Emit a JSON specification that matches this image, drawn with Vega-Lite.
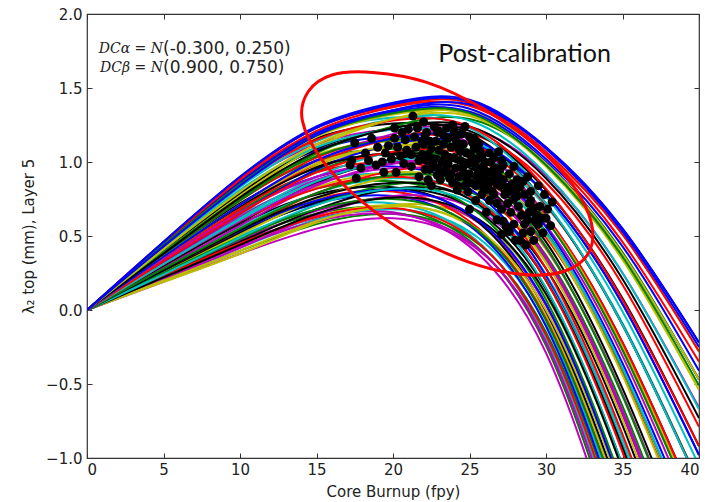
{
"$schema":"https://vega.github.io/schema/vega-lite/v6.json",
"width":612,"height":444,
"autosize":{"type":"none"},
"padding":{"left":87,"top":14,"right":6,"bottom":44},
"background":"white",
"config":{
"view":{"stroke":"#333","strokeWidth":1.2},
"axis":{"grid":false,"domain":false,"tickColor":"#333","tickSize":-5,"tickWidth":1,
"labelFont":"DejaVu Sans","labelFontSize":15,"labelColor":"#222",
"titleFont":"DejaVu Sans","titleFontSize":15,"titleFontWeight":"normal","titleColor":"#222"}
},
"datasets":{
"curves":[
{"s":0,"x":0,"y":0},{"s":0,"x":5,"y":0.19},{"s":0,"x":10,"y":0.38},{"s":0,"x":15,"y":0.55},{"s":0,"x":20,"y":0.62},{"s":0,"x":25,"y":0.45},{"s":0,"x":30,"y":-0.20},{"s":0,"x":35,"y":-1.60},{"s":0,"x":40,"y":-3.40},
{"s":21,"x":0,"y":0},{"s":21,"x":5,"y":0.24},{"s":21,"x":10,"y":0.46},{"s":21,"x":15,"y":0.62},{"s":21,"x":20,"y":0.66},{"s":21,"x":25,"y":0.43},{"s":21,"x":30,"y":-0.29},{"s":21,"x":35,"y":-1.78},{"s":21,"x":40,"y":-3.66},
{"s":46,"x":0,"y":0},{"s":46,"x":5,"y":0.20},{"s":46,"x":10,"y":0.40},{"s":46,"x":15,"y":0.58},{"s":46,"x":20,"y":0.65},{"s":46,"x":25,"y":0.49},{"s":46,"x":30,"y":-0.15},{"s":46,"x":35,"y":-1.51},{"s":46,"x":40,"y":-3.27},
{"s":18,"x":0,"y":0},{"s":18,"x":5,"y":0.25},{"s":18,"x":10,"y":0.48},{"s":18,"x":15,"y":0.65},{"s":18,"x":20,"y":0.69},{"s":18,"x":25,"y":0.47},{"s":18,"x":30,"y":-0.24},{"s":18,"x":35,"y":-1.70},{"s":18,"x":40,"y":-3.53},
{"s":41,"x":0,"y":0},{"s":41,"x":5,"y":0.21},{"s":41,"x":10,"y":0.42},{"s":41,"x":15,"y":0.61},{"s":41,"x":20,"y":0.68},{"s":41,"x":25,"y":0.53},{"s":41,"x":30,"y":-0.10},{"s":41,"x":35,"y":-1.43},{"s":41,"x":40,"y":-3.15},
{"s":13,"x":0,"y":0},{"s":13,"x":5,"y":0.26},{"s":13,"x":10,"y":0.50},{"s":13,"x":15,"y":0.68},{"s":13,"x":20,"y":0.72},{"s":13,"x":25,"y":0.51},{"s":13,"x":30,"y":-0.19},{"s":13,"x":35,"y":-1.61},{"s":13,"x":40,"y":-3.40},
{"s":36,"x":0,"y":0},{"s":36,"x":5,"y":0.22},{"s":36,"x":10,"y":0.44},{"s":36,"x":15,"y":0.63},{"s":36,"x":20,"y":0.71},{"s":36,"x":25,"y":0.57},{"s":36,"x":30,"y":-0.04},{"s":36,"x":35,"y":-1.34},{"s":36,"x":40,"y":-3.02},
{"s":8,"x":0,"y":0},{"s":8,"x":5,"y":0.19},{"s":8,"x":10,"y":0.38},{"s":8,"x":15,"y":0.59},{"s":8,"x":20,"y":0.71},{"s":8,"x":25,"y":0.63},{"s":8,"x":30,"y":0.10},{"s":8,"x":35,"y":-1.08},{"s":8,"x":40,"y":-2.64},
{"s":31,"x":0,"y":0},{"s":31,"x":5,"y":0.27},{"s":31,"x":10,"y":0.53},{"s":31,"x":15,"y":0.72},{"s":31,"x":20,"y":0.77},{"s":31,"x":25,"y":0.57},{"s":31,"x":30,"y":-0.11},{"s":31,"x":35,"y":-1.48},{"s":31,"x":40,"y":-3.21},
{"s":28,"x":0,"y":0},{"s":28,"x":5,"y":0.24},{"s":28,"x":10,"y":0.47},{"s":28,"x":15,"y":0.67},{"s":28,"x":20,"y":0.76},{"s":28,"x":25,"y":0.63},{"s":28,"x":30,"y":0.03},{"s":28,"x":35,"y":-1.22},{"s":28,"x":40,"y":-2.83},
{"s":26,"x":0,"y":0},{"s":26,"x":5,"y":0.28},{"s":26,"x":10,"y":0.55},{"s":26,"x":15,"y":0.75},{"s":26,"x":20,"y":0.80},{"s":26,"x":25,"y":0.60},{"s":26,"x":30,"y":-0.06},{"s":26,"x":35,"y":-1.39},{"s":26,"x":40,"y":-3.08},
{"s":49,"x":0,"y":0},{"s":49,"x":5,"y":0.21},{"s":49,"x":10,"y":0.42},{"s":49,"x":15,"y":0.64},{"s":49,"x":20,"y":0.77},{"s":49,"x":25,"y":0.70},{"s":49,"x":30,"y":0.21},{"s":49,"x":35,"y":-0.91},{"s":49,"x":40,"y":-2.38},
{"s":23,"x":0,"y":0},{"s":23,"x":5,"y":0.30},{"s":23,"x":10,"y":0.58},{"s":23,"x":15,"y":0.78},{"s":23,"x":20,"y":0.83},{"s":23,"x":25,"y":0.64},{"s":23,"x":30,"y":-0.01},{"s":23,"x":35,"y":-1.30},{"s":23,"x":40,"y":-2.96},
{"s":44,"x":0,"y":0},{"s":44,"x":5,"y":0.26},{"s":44,"x":10,"y":0.52},{"s":44,"x":15,"y":0.73},{"s":44,"x":20,"y":0.82},{"s":44,"x":25,"y":0.70},{"s":44,"x":30,"y":0.14},{"s":44,"x":35,"y":-1.05},{"s":44,"x":40,"y":-2.57},
{"s":16,"x":0,"y":0},{"s":16,"x":5,"y":0.23},{"s":16,"x":10,"y":0.46},{"s":16,"x":15,"y":0.68},{"s":16,"x":20,"y":0.82},{"s":16,"x":25,"y":0.76},{"s":16,"x":30,"y":0.28},{"s":16,"x":35,"y":-0.78},{"s":16,"x":40,"y":-2.19},
{"s":39,"x":0,"y":0},{"s":39,"x":5,"y":0.31},{"s":39,"x":10,"y":0.61},{"s":39,"x":15,"y":0.82},{"s":39,"x":20,"y":0.87},{"s":39,"x":25,"y":0.70},{"s":39,"x":30,"y":0.07},{"s":39,"x":35,"y":-1.18},{"s":39,"x":40,"y":-2.77},
{"s":11,"x":0,"y":0},{"s":11,"x":5,"y":0.24},{"s":11,"x":10,"y":0.48},{"s":11,"x":15,"y":0.71},{"s":11,"x":20,"y":0.85},{"s":11,"x":25,"y":0.80},{"s":11,"x":30,"y":0.34},{"s":11,"x":35,"y":-0.69},{"s":11,"x":40,"y":-2.06},
{"s":34,"x":0,"y":0},{"s":34,"x":5,"y":0.28},{"s":34,"x":10,"y":0.56},{"s":34,"x":15,"y":0.79},{"s":34,"x":20,"y":0.89},{"s":34,"x":25,"y":0.78},{"s":34,"x":30,"y":0.24},{"s":34,"x":35,"y":-0.87},{"s":34,"x":40,"y":-2.32},
{"s":6,"x":0,"y":0},{"s":6,"x":5,"y":0.33},{"s":6,"x":10,"y":0.64},{"s":6,"x":15,"y":0.86},{"s":6,"x":20,"y":0.92},{"s":6,"x":25,"y":0.76},{"s":6,"x":30,"y":0.15},{"s":6,"x":35,"y":-1.05},{"s":6,"x":40,"y":-2.58},
{"s":29,"x":0,"y":0},{"s":29,"x":5,"y":0.25},{"s":29,"x":10,"y":0.51},{"s":29,"x":15,"y":0.75},{"s":29,"x":20,"y":0.90},{"s":29,"x":25,"y":0.86},{"s":29,"x":30,"y":0.41},{"s":29,"x":35,"y":-0.57},{"s":29,"x":40,"y":-1.87},
{"s":1,"x":0,"y":0},{"s":1,"x":5,"y":0.30},{"s":1,"x":10,"y":0.59},{"s":1,"x":15,"y":0.83},{"s":1,"x":20,"y":0.93},{"s":1,"x":25,"y":0.84},{"s":1,"x":30,"y":0.32},{"s":1,"x":35,"y":-0.74},{"s":1,"x":40,"y":-2.13},
{"s":24,"x":0,"y":0},{"s":24,"x":5,"y":0.34},{"s":24,"x":10,"y":0.67},{"s":24,"x":15,"y":0.90},{"s":24,"x":20,"y":0.97},{"s":24,"x":25,"y":0.82},{"s":24,"x":30,"y":0.23},{"s":24,"x":35,"y":-0.92},{"s":24,"x":40,"y":-2.38},
{"s":47,"x":0,"y":0},{"s":47,"x":5,"y":0.27},{"s":47,"x":10,"y":0.54},{"s":47,"x":15,"y":0.79},{"s":47,"x":20,"y":0.94},{"s":47,"x":25,"y":0.92},{"s":47,"x":30,"y":0.49},{"s":47,"x":35,"y":-0.43},{"s":47,"x":40,"y":-1.68},
{"s":19,"x":0,"y":0},{"s":19,"x":5,"y":0.35},{"s":19,"x":10,"y":0.69},{"s":19,"x":15,"y":0.93},{"s":19,"x":20,"y":1.00},{"s":19,"x":25,"y":0.86},{"s":19,"x":30,"y":0.28},{"s":19,"x":35,"y":-0.84},{"s":19,"x":40,"y":-2.26},
{"s":42,"x":0,"y":0},{"s":42,"x":5,"y":0.32},{"s":42,"x":10,"y":0.63},{"s":42,"x":15,"y":0.88},{"s":42,"x":20,"y":0.99},{"s":42,"x":25,"y":0.92},{"s":42,"x":30,"y":0.42},{"s":42,"x":35,"y":-0.57},{"s":42,"x":40,"y":-1.87},
{"s":14,"x":0,"y":0},{"s":14,"x":5,"y":0.29},{"s":14,"x":10,"y":0.57},{"s":14,"x":15,"y":0.84},{"s":14,"x":20,"y":0.99},{"s":14,"x":25,"y":0.98},{"s":14,"x":30,"y":0.57},{"s":14,"x":35,"y":-0.31},{"s":14,"x":40,"y":-1.49},
{"s":37,"x":0,"y":0},{"s":37,"x":5,"y":0.37},{"s":37,"x":10,"y":0.72},{"s":37,"x":15,"y":0.97},{"s":37,"x":20,"y":1.05},{"s":37,"x":25,"y":0.91},{"s":37,"x":30,"y":0.36},{"s":37,"x":35,"y":-0.70},{"s":37,"x":40,"y":-2.07},
{"s":9,"x":0,"y":0},{"s":9,"x":5,"y":0.30},{"s":9,"x":10,"y":0.59},{"s":9,"x":15,"y":0.86},{"s":9,"x":20,"y":1.02},{"s":9,"x":25,"y":1.01},{"s":9,"x":30,"y":0.62},{"s":9,"x":35,"y":-0.22},{"s":9,"x":40,"y":-1.36},
{"s":32,"x":0,"y":0},{"s":32,"x":5,"y":0.34},{"s":32,"x":10,"y":0.67},{"s":32,"x":15,"y":0.94},{"s":32,"x":20,"y":1.06},{"s":32,"x":25,"y":0.99},{"s":32,"x":30,"y":0.53},{"s":32,"x":35,"y":-0.40},{"s":32,"x":40,"y":-1.62},
{"s":4,"x":0,"y":0},{"s":4,"x":5,"y":0.39},{"s":4,"x":10,"y":0.75},{"s":4,"x":15,"y":1.01},{"s":4,"x":20,"y":1.09},{"s":4,"x":25,"y":0.97},{"s":4,"x":30,"y":0.43},{"s":4,"x":35,"y":-0.58},{"s":4,"x":40,"y":-1.88},
{"s":27,"x":0,"y":0},{"s":27,"x":5,"y":0.31},{"s":27,"x":10,"y":0.62},{"s":27,"x":15,"y":0.90},{"s":27,"x":20,"y":1.07},{"s":27,"x":25,"y":1.07},{"s":27,"x":30,"y":0.70},{"s":27,"x":35,"y":-0.09},{"s":27,"x":40,"y":-1.17},
{"s":50,"x":0,"y":0},{"s":50,"x":5,"y":0.36},{"s":50,"x":10,"y":0.70},{"s":50,"x":15,"y":0.98},{"s":50,"x":20,"y":1.10},{"s":50,"x":25,"y":1.05},{"s":50,"x":30,"y":0.61},{"s":50,"x":35,"y":-0.27},{"s":50,"x":40,"y":-1.43},
{"s":22,"x":0,"y":0},{"s":22,"x":5,"y":0.40},{"s":22,"x":10,"y":0.78},{"s":22,"x":15,"y":1.05},{"s":22,"x":20,"y":1.14},{"s":22,"x":25,"y":1.03},{"s":22,"x":30,"y":0.51},{"s":22,"x":35,"y":-0.44},{"s":22,"x":40,"y":-1.69},
{"s":45,"x":0,"y":0},{"s":45,"x":5,"y":0.33},{"s":45,"x":10,"y":0.65},{"s":45,"x":15,"y":0.95},{"s":45,"x":20,"y":1.12},{"s":45,"x":25,"y":1.13},{"s":45,"x":30,"y":0.78},{"s":45,"x":35,"y":0.04},{"s":45,"x":40,"y":-0.98},
{"s":17,"x":0,"y":0},{"s":17,"x":5,"y":0.41},{"s":17,"x":10,"y":0.80},{"s":17,"x":15,"y":1.08},{"s":17,"x":20,"y":1.17},{"s":17,"x":25,"y":1.07},{"s":17,"x":30,"y":0.56},{"s":17,"x":35,"y":-0.36},{"s":17,"x":40,"y":-1.56},
{"s":40,"x":0,"y":0},{"s":40,"x":5,"y":0.38},{"s":40,"x":10,"y":0.74},{"s":40,"x":15,"y":1.03},{"s":40,"x":20,"y":1.17},{"s":40,"x":25,"y":1.13},{"s":40,"x":30,"y":0.71},{"s":40,"x":35,"y":-0.10},{"s":40,"x":40,"y":-1.17},
{"s":12,"x":0,"y":0},{"s":12,"x":5,"y":0.34},{"s":12,"x":10,"y":0.68},{"s":12,"x":15,"y":0.99},{"s":12,"x":20,"y":1.16},{"s":12,"x":25,"y":1.19},{"s":12,"x":30,"y":0.86},{"s":12,"x":35,"y":0.17},{"s":12,"x":40,"y":-0.79},
{"s":35,"x":0,"y":0},{"s":35,"x":5,"y":0.43},{"s":35,"x":10,"y":0.84},{"s":35,"x":15,"y":1.12},{"s":35,"x":20,"y":1.22},{"s":35,"x":25,"y":1.13},{"s":35,"x":30,"y":0.64},{"s":35,"x":35,"y":-0.23},{"s":35,"x":40,"y":-1.37},
{"s":7,"x":0,"y":0},{"s":7,"x":5,"y":0.36},{"s":7,"x":10,"y":0.71},{"s":7,"x":15,"y":1.01},{"s":7,"x":20,"y":1.19},{"s":7,"x":25,"y":1.23},{"s":7,"x":30,"y":0.91},{"s":7,"x":35,"y":0.25},{"s":7,"x":40,"y":-0.66},
{"s":30,"x":0,"y":0},{"s":30,"x":5,"y":0.40},{"s":30,"x":10,"y":0.79},{"s":30,"x":15,"y":1.09},{"s":30,"x":20,"y":1.23},{"s":30,"x":25,"y":1.21},{"s":30,"x":30,"y":0.81},{"s":30,"x":35,"y":0.08},{"s":30,"x":40,"y":-0.92},
{"s":2,"x":0,"y":0},{"s":2,"x":5,"y":0.45},{"s":2,"x":10,"y":0.87},{"s":2,"x":15,"y":1.16},{"s":2,"x":20,"y":1.26},{"s":2,"x":25,"y":1.19},{"s":2,"x":30,"y":0.72},{"s":2,"x":35,"y":-0.10},{"s":2,"x":40,"y":-1.18},
{"s":25,"x":0,"y":0},{"s":25,"x":5,"y":0.37},{"s":25,"x":10,"y":0.74},{"s":25,"x":15,"y":1.06},{"s":25,"x":20,"y":1.24},{"s":25,"x":25,"y":1.29},{"s":25,"x":30,"y":0.99},{"s":25,"x":35,"y":0.39},{"s":25,"x":40,"y":-0.47},
{"s":48,"x":0,"y":0},{"s":48,"x":5,"y":0.46},{"s":48,"x":10,"y":0.89},{"s":48,"x":15,"y":1.19},{"s":48,"x":20,"y":1.30},{"s":48,"x":25,"y":1.23},{"s":48,"x":30,"y":0.77},{"s":48,"x":35,"y":-0.01},{"s":48,"x":40,"y":-1.05},
{"s":20,"x":0,"y":0},{"s":20,"x":5,"y":0.42},{"s":20,"x":10,"y":0.83},{"s":20,"x":15,"y":1.14},{"s":20,"x":20,"y":1.29},{"s":20,"x":25,"y":1.28},{"s":20,"x":30,"y":0.92},{"s":20,"x":35,"y":0.25},{"s":20,"x":40,"y":-0.67},
{"s":43,"x":0,"y":0},{"s":43,"x":5,"y":0.39},{"s":43,"x":10,"y":0.77},{"s":43,"x":15,"y":1.10},{"s":43,"x":20,"y":1.29},{"s":43,"x":25,"y":1.34},{"s":43,"x":30,"y":1.06},{"s":43,"x":35,"y":0.51},{"s":43,"x":40,"y":-0.28},
{"s":15,"x":0,"y":0},{"s":15,"x":5,"y":0.43},{"s":15,"x":10,"y":0.85},{"s":15,"x":15,"y":1.17},{"s":15,"x":20,"y":1.32},{"s":15,"x":25,"y":1.32},{"s":15,"x":30,"y":0.97},{"s":15,"x":35,"y":0.34},{"s":15,"x":40,"y":-0.54},
{"s":38,"x":0,"y":0},{"s":38,"x":5,"y":0.44},{"s":38,"x":10,"y":0.86},{"s":38,"x":15,"y":1.19},{"s":38,"x":20,"y":1.34},{"s":38,"x":25,"y":1.34},{"s":38,"x":30,"y":1.00},{"s":38,"x":35,"y":0.38},{"s":38,"x":40,"y":-0.47},
{"s":10,"x":0,"y":0},{"s":10,"x":5,"y":0.44},{"s":10,"x":10,"y":0.87},{"s":10,"x":15,"y":1.20},{"s":10,"x":20,"y":1.35},{"s":10,"x":25,"y":1.36},{"s":10,"x":30,"y":1.02},{"s":10,"x":35,"y":0.43},{"s":10,"x":40,"y":-0.41},
{"s":33,"x":0,"y":0},{"s":33,"x":5,"y":0.45},{"s":33,"x":10,"y":0.88},{"s":33,"x":15,"y":1.21},{"s":33,"x":20,"y":1.37},{"s":33,"x":25,"y":1.38},{"s":33,"x":30,"y":1.05},{"s":33,"x":35,"y":0.46},{"s":33,"x":40,"y":-0.35},
{"s":5,"x":0,"y":0},{"s":5,"x":5,"y":0.46},{"s":5,"x":10,"y":0.89},{"s":5,"x":15,"y":1.23},{"s":5,"x":20,"y":1.38},{"s":5,"x":25,"y":1.40},{"s":5,"x":30,"y":1.07},{"s":5,"x":35,"y":0.51},{"s":5,"x":40,"y":-0.28},
{"s":3,"x":0,"y":0},{"s":3,"x":5,"y":0.46},{"s":3,"x":10,"y":0.90},{"s":3,"x":15,"y":1.24},{"s":3,"x":20,"y":1.40},{"s":3,"x":25,"y":1.42},{"s":3,"x":30,"y":1.10},{"s":3,"x":35,"y":0.55},{"s":3,"x":40,"y":-0.22},
{"s":63,"x":0,"y":0},{"s":63,"x":5,"y":0.22},{"s":63,"x":10,"y":0.43},{"s":63,"x":15,"y":0.60},{"s":63,"x":20,"y":0.65},{"s":63,"x":25,"y":0.46},{"s":63,"x":30,"y":-0.22},{"s":63,"x":35,"y":-1.65},{"s":63,"x":40,"y":-3.47},
{"s":54,"x":0,"y":0},{"s":54,"x":5,"y":0.23},{"s":54,"x":10,"y":0.45},{"s":54,"x":15,"y":0.63},{"s":54,"x":20,"y":0.69},{"s":54,"x":25,"y":0.50},{"s":54,"x":30,"y":-0.17},{"s":54,"x":35,"y":-1.56},{"s":54,"x":40,"y":-3.34},
{"s":57,"x":0,"y":0},{"s":57,"x":5,"y":0.20},{"s":57,"x":10,"y":0.40},{"s":57,"x":15,"y":0.60},{"s":57,"x":20,"y":0.70},{"s":57,"x":25,"y":0.58},{"s":57,"x":30,"y":0.00},{"s":57,"x":35,"y":-1.25},{"s":57,"x":40,"y":-2.89},
{"s":60,"x":0,"y":0},{"s":60,"x":5,"y":0.25},{"s":60,"x":10,"y":0.49},{"s":60,"x":15,"y":0.68},{"s":60,"x":20,"y":0.75},{"s":60,"x":25,"y":0.58},{"s":60,"x":30,"y":-0.07},{"s":60,"x":35,"y":-1.39},{"s":60,"x":40,"y":-3.08},
{"s":51,"x":0,"y":0},{"s":51,"x":5,"y":0.22},{"s":51,"x":10,"y":0.44},{"s":51,"x":15,"y":0.65},{"s":51,"x":20,"y":0.76},{"s":51,"x":25,"y":0.65},{"s":51,"x":30,"y":0.11},{"s":51,"x":35,"y":-1.08},{"s":51,"x":40,"y":-2.64},
{"s":66,"x":0,"y":0},{"s":66,"x":5,"y":0.27},{"s":66,"x":10,"y":0.54},{"s":66,"x":15,"y":0.74},{"s":66,"x":20,"y":0.81},{"s":66,"x":25,"y":0.65},{"s":66,"x":30,"y":0.04},{"s":66,"x":35,"y":-1.22},{"s":66,"x":40,"y":-2.83},
{"s":69,"x":0,"y":0},{"s":69,"x":5,"y":0.24},{"s":69,"x":10,"y":0.49},{"s":69,"x":15,"y":0.71},{"s":69,"x":20,"y":0.82},{"s":69,"x":25,"y":0.73},{"s":69,"x":30,"y":0.21},{"s":69,"x":35,"y":-0.91},{"s":69,"x":40,"y":-2.38},
{"s":72,"x":0,"y":0},{"s":72,"x":5,"y":0.27},{"s":72,"x":10,"y":0.54},{"s":72,"x":15,"y":0.76},{"s":72,"x":20,"y":0.86},{"s":72,"x":25,"y":0.75},{"s":72,"x":30,"y":0.20},{"s":72,"x":35,"y":-0.93},{"s":72,"x":40,"y":-2.41},
{"s":75,"x":0,"y":0},{"s":75,"x":5,"y":0.31},{"s":75,"x":10,"y":0.60},{"s":75,"x":15,"y":0.82},{"s":75,"x":20,"y":0.90},{"s":75,"x":25,"y":0.77},{"s":75,"x":30,"y":0.20},{"s":75,"x":35,"y":-0.96},{"s":75,"x":40,"y":-2.45},
{"s":53,"x":0,"y":0},{"s":53,"x":5,"y":0.28},{"s":53,"x":10,"y":0.55},{"s":53,"x":15,"y":0.79},{"s":53,"x":20,"y":0.91},{"s":53,"x":25,"y":0.85},{"s":53,"x":30,"y":0.37},{"s":53,"x":35,"y":-0.65},{"s":53,"x":40,"y":-2.00},
{"s":56,"x":0,"y":0},{"s":56,"x":5,"y":0.31},{"s":56,"x":10,"y":0.60},{"s":56,"x":15,"y":0.85},{"s":56,"x":20,"y":0.96},{"s":56,"x":25,"y":0.87},{"s":56,"x":30,"y":0.36},{"s":56,"x":35,"y":-0.68},{"s":56,"x":40,"y":-2.03},
{"s":70,"x":0,"y":0},{"s":70,"x":5,"y":0.34},{"s":70,"x":10,"y":0.66},{"s":70,"x":15,"y":0.90},{"s":70,"x":20,"y":1.00},{"s":70,"x":25,"y":0.89},{"s":70,"x":30,"y":0.35},{"s":70,"x":35,"y":-0.70},{"s":70,"x":40,"y":-2.07},
{"s":62,"x":0,"y":0},{"s":62,"x":5,"y":0.31},{"s":62,"x":10,"y":0.61},{"s":62,"x":15,"y":0.87},{"s":62,"x":20,"y":1.01},{"s":62,"x":25,"y":0.97},{"s":62,"x":30,"y":0.52},{"s":62,"x":35,"y":-0.39},{"s":62,"x":40,"y":-1.62},
{"s":65,"x":0,"y":0},{"s":65,"x":5,"y":0.36},{"s":65,"x":10,"y":0.70},{"s":65,"x":15,"y":0.96},{"s":65,"x":20,"y":1.06},{"s":65,"x":25,"y":0.96},{"s":65,"x":30,"y":0.46},{"s":65,"x":35,"y":-0.53},{"s":65,"x":40,"y":-1.81},
{"s":68,"x":0,"y":0},{"s":68,"x":5,"y":0.33},{"s":68,"x":10,"y":0.65},{"s":68,"x":15,"y":0.93},{"s":68,"x":20,"y":1.07},{"s":68,"x":25,"y":1.04},{"s":68,"x":30,"y":0.63},{"s":68,"x":35,"y":-0.22},{"s":68,"x":40,"y":-1.36},
{"s":71,"x":0,"y":0},{"s":71,"x":5,"y":0.36},{"s":71,"x":10,"y":0.71},{"s":71,"x":15,"y":0.99},{"s":71,"x":20,"y":1.11},{"s":71,"x":25,"y":1.06},{"s":71,"x":30,"y":0.62},{"s":71,"x":35,"y":-0.25},{"s":71,"x":40,"y":-1.40},
{"s":74,"x":0,"y":0},{"s":74,"x":5,"y":0.39},{"s":74,"x":10,"y":0.76},{"s":74,"x":15,"y":1.04},{"s":74,"x":20,"y":1.15},{"s":74,"x":25,"y":1.08},{"s":74,"x":30,"y":0.61},{"s":74,"x":35,"y":-0.27},{"s":74,"x":40,"y":-1.43},
{"s":52,"x":0,"y":0},{"s":52,"x":5,"y":0.36},{"s":52,"x":10,"y":0.71},{"s":52,"x":15,"y":1.01},{"s":52,"x":20,"y":1.16},{"s":52,"x":25,"y":1.16},{"s":52,"x":30,"y":0.78},{"s":52,"x":35,"y":0.04},{"s":52,"x":40,"y":-0.98},
{"s":55,"x":0,"y":0},{"s":55,"x":5,"y":0.41},{"s":55,"x":10,"y":0.81},{"s":55,"x":15,"y":1.10},{"s":55,"x":20,"y":1.22},{"s":55,"x":25,"y":1.16},{"s":55,"x":30,"y":0.72},{"s":55,"x":35,"y":-0.10},{"s":55,"x":40,"y":-1.18},
{"s":58,"x":0,"y":0},{"s":58,"x":5,"y":0.38},{"s":58,"x":10,"y":0.76},{"s":58,"x":15,"y":1.07},{"s":58,"x":20,"y":1.23},{"s":58,"x":25,"y":1.24},{"s":58,"x":30,"y":0.89},{"s":58,"x":35,"y":0.21},{"s":58,"x":40,"y":-0.73},
{"s":61,"x":0,"y":0},{"s":61,"x":5,"y":0.43},{"s":61,"x":10,"y":0.85},{"s":61,"x":15,"y":1.15},{"s":61,"x":20,"y":1.28},{"s":61,"x":25,"y":1.24},{"s":61,"x":30,"y":0.82},{"s":61,"x":35,"y":0.07},{"s":61,"x":40,"y":-0.92},
{"s":64,"x":0,"y":0},{"s":64,"x":5,"y":0.41},{"s":64,"x":10,"y":0.80},{"s":64,"x":15,"y":1.12},{"s":64,"x":20,"y":1.29},{"s":64,"x":25,"y":1.31},{"s":64,"x":30,"y":0.99},{"s":64,"x":35,"y":0.38},{"s":64,"x":40,"y":-0.47},
{"s":67,"x":0,"y":0},{"s":67,"x":5,"y":0.44},{"s":67,"x":10,"y":0.85},{"s":67,"x":15,"y":1.18},{"s":67,"x":20,"y":1.33},{"s":67,"x":25,"y":1.33},{"s":67,"x":30,"y":0.98},{"s":67,"x":35,"y":0.36},{"s":67,"x":40,"y":-0.51},
{"s":59,"x":0,"y":0},{"s":59,"x":5,"y":0.43},{"s":59,"x":10,"y":0.84},{"s":59,"x":15,"y":1.18},{"s":59,"x":20,"y":1.35},{"s":59,"x":25,"y":1.39},{"s":59,"x":30,"y":1.10},{"s":59,"x":35,"y":0.55},{"s":59,"x":40,"y":-0.22},
{"s":73,"x":0,"y":0},{"s":73,"x":5,"y":0.46},{"s":73,"x":10,"y":0.90},{"s":73,"x":15,"y":1.23},{"s":73,"x":20,"y":1.39},{"s":73,"x":25,"y":1.41},{"s":73,"x":30,"y":1.09},{"s":73,"x":35,"y":0.53},{"s":73,"x":40,"y":-0.25}
],
"dots":[
{"x":17.5,"y":1.13},{"x":17.3,"y":1.01},{"x":17.2,"y":0.98},{"x":17.9,"y":0.96},{"x":17.6,"y":0.89},{"x":18.2,"y":1.06},{"x":19.3,"y":1.00},{"x":19.4,"y":0.93},{"x":19.5,"y":1.06},{"x":20.1,"y":1.23},
{"x":20.1,"y":1.16},{"x":19.7,"y":1.11},{"x":20.3,"y":1.10},{"x":20.5,"y":1.04},{"x":20.2,"y":0.93},{"x":20.7,"y":0.99},{"x":20.9,"y":1.08},{"x":21.3,"y":1.31},{"x":22.0,"y":1.27},{"x":21.4,"y":1.17},
{"x":21.5,"y":1.10},{"x":21.7,"y":1.01},{"x":21.7,"y":0.90},{"x":22.2,"y":1.20},{"x":22.9,"y":1.20},{"x":23.5,"y":1.23},{"x":22.5,"y":0.84},{"x":24.2,"y":0.81},{"x":25.3,"y":1.16},{"x":26.3,"y":1.06},
{"x":25.4,"y":0.74},{"x":25.0,"y":0.68},{"x":26.1,"y":0.66},{"x":27.2,"y":0.98},{"x":27.6,"y":0.92},{"x":28.5,"y":0.87},{"x":29.5,"y":0.84},{"x":29.0,"y":0.74},{"x":29.6,"y":0.70},{"x":30.1,"y":0.68},
{"x":30.0,"y":0.62},{"x":30.3,"y":0.57},{"x":29.8,"y":0.52},{"x":29.0,"y":0.53},{"x":27.1,"y":0.51},{"x":28.3,"y":0.47},{"x":28.7,"y":0.44},{"x":28.0,"y":0.47},{"x":27.2,"y":0.60},{"x":28.1,"y":0.77},
{"x":29.0,"y":0.80},{"x":22.0,"y":1.12},{"x":22.3,"y":1.05},{"x":22.6,"y":0.98},{"x":22.1,"y":0.95},{"x":22.8,"y":1.14},{"x":23.0,"y":1.08},{"x":23.2,"y":1.00},{"x":23.4,"y":0.93},{"x":23.1,"y":0.88},
{"x":23.6,"y":1.16},{"x":23.8,"y":1.10},{"x":24.0,"y":1.03},{"x":24.1,"y":0.96},{"x":24.3,"y":0.90},{"x":24.5,"y":1.19},{"x":24.6,"y":1.12},{"x":24.8,"y":1.06},{"x":24.9,"y":0.99},{"x":25.0,"y":0.92},
{"x":25.1,"y":0.86},{"x":25.3,"y":1.09},{"x":25.5,"y":1.02},{"x":25.6,"y":0.95},{"x":25.8,"y":0.89},{"x":25.9,"y":0.83},{"x":26.0,"y":1.00},{"x":26.2,"y":0.93},{"x":26.4,"y":0.87},{"x":26.5,"y":0.80},
{"x":26.7,"y":0.96},{"x":26.9,"y":0.90},{"x":27.0,"y":0.84},{"x":27.3,"y":0.78},{"x":27.5,"y":0.72},{"x":27.8,"y":0.85},{"x":28.0,"y":0.80},{"x":28.2,"y":0.70},{"x":28.4,"y":0.64},{"x":28.6,"y":0.58},
{"x":28.9,"y":0.66},{"x":29.3,"y":0.61},{"x":29.5,"y":0.58},{"x":27.7,"y":0.66},{"x":27.4,"y":0.56},{"x":26.8,"y":0.72},{"x":26.3,"y":0.74},{"x":25.8,"y":0.78},{"x":24.7,"y":0.84},{"x":23.9,"y":0.86},
{"x":23.3,"y":1.18},{"x":22.7,"y":1.24},{"x":24.2,"y":1.13},{"x":22.4,"y":1.14},{"x":23.7,"y":1.03},{"x":24.4,"y":1.07},{"x":25.2,"y":1.13},{"x":25.7,"y":1.07},{"x":26.6,"y":1.03},{"x":27.1,"y":1.01},
{"x":21.9,"y":1.05},{"x":22.9,"y":0.91},{"x":24.6,"y":0.93},{"x":25.4,"y":0.97},{"x":26.1,"y":0.88},{"x":23.5,"y":0.97},{"x":21.2,"y":0.97},{"x":20.8,"y":1.15},{"x":19.0,"y":1.10},{"x":18.6,"y":1.16},
{"x":21.0,"y":1.22},{"x":22.3,"y":0.88},{"x":30.4,"y":0.73},{"x":29.9,"y":0.78},{"x":28.8,"y":0.90},{"x":27.9,"y":0.97},{"x":26.8,"y":0.61},{"x":27.6,"y":0.53},{"x":29.2,"y":0.47},
{"x":22.1,"y":1.18},{"x":22.5,"y":1.09},{"x":22.7,"y":1.02},{"x":22.9,"y":0.96},{"x":23.0,"y":1.21},{"x":23.3,"y":1.12},{"x":23.4,"y":1.05},{"x":23.6,"y":0.99},{"x":23.8,"y":0.92},{"x":24.0,"y":1.20},
{"x":24.1,"y":1.15},{"x":24.3,"y":1.09},{"x":24.4,"y":1.01},{"x":24.6,"y":0.97},{"x":24.8,"y":0.89},{"x":25.0,"y":1.17},{"x":25.1,"y":1.04},{"x":25.3,"y":1.00},{"x":25.5,"y":0.91},{"x":25.6,"y":0.86},
{"x":25.8,"y":1.04},{"x":25.9,"y":0.97},{"x":26.0,"y":0.93},{"x":26.2,"y":0.84},{"x":26.4,"y":1.00},{"x":26.5,"y":0.94},{"x":26.6,"y":0.90},{"x":26.8,"y":0.85},{"x":27.0,"y":0.95},{"x":27.2,"y":0.88},
{"x":27.4,"y":0.83},{"x":27.6,"y":0.80},{"x":27.9,"y":0.75},{"x":28.1,"y":0.88},{"x":28.3,"y":0.83},{"x":28.6,"y":0.78},{"x":28.9,"y":0.72},{"x":29.2,"y":0.69},{"x":29.4,"y":0.64},{"x":29.7,"y":0.62},
{"x":28.8,"y":0.61},{"x":28.5,"y":0.52},{"x":27.9,"y":0.58},{"x":27.1,"y":0.68},{"x":26.6,"y":0.78},{"x":26.0,"y":0.81},{"x":25.4,"y":0.84},{"x":24.9,"y":0.80},{"x":23.7,"y":0.89},{"x":23.0,"y":0.94},
{"x":22.4,"y":0.95},{"x":22.2,"y":1.01},{"x":21.9,"y":1.14},{"x":21.6,"y":1.23},{"x":21.2,"y":1.05},{"x":20.6,"y":1.20},{"x":19.9,"y":1.02},{"x":18.9,"y":0.98},{"x":18.4,"y":1.01},{"x":24.7,"y":1.24},
{"x":23.9,"y":1.25},{"x":25.6,"y":1.12},{"x":26.9,"y":1.07},{"x":24.2,"y":0.84}
],
"ellipse":[
{"i":0,"x":32.76,"y":0.382},{"i":1,"x":31.14,"y":0.26},{"i":2,"x":28.37,"y":0.241},{"i":3,"x":24.86,"y":0.327},
{"i":4,"x":21.14,"y":0.505},{"i":5,"x":17.79,"y":0.749},{"i":6,"x":15.32,"y":1.02},{"i":7,"x":14.08,"y":1.278},
{"i":8,"x":14.44,"y":1.473},{"i":9,"x":16.01,"y":1.588},{"i":10,"x":18.69,"y":1.605},{"i":11,"x":22.2,"y":1.538},
{"i":12,"x":25.92,"y":1.359},{"i":13,"x":29.27,"y":1.116},{"i":14,"x":31.74,"y":0.845},{"i":15,"x":32.97,"y":0.587}
],
"one":[{}]
},
"layer":[
{
"data":{"name":"curves"},
"mark":{"type":"line","interpolate":"natural","strokeWidth":2,"clip":true},
"encoding":{
"x":{"field":"x","type":"quantitative","scale":{"domain":[0,40],"nice":false,"zero":false},
"axis":{"values":[0,5,10,15,20,25,30,35,40],"format":"d","labelPadding":9,"title":"Core Burnup (fpy)","titleY":33,"titleBaseline":"middle"}},
"y":{"field":"y","type":"quantitative","scale":{"domain":[-1,2],"nice":false,"zero":false},
"axis":{"values":[-1,-0.5,0,0.5,1,1.5,2],"format":".1f","labelPadding":10,"title":"λ₂ top (mm), Layer 5","titleX":-59,"titleY":222,"titleAngle":-90,"titleBaseline":"middle","titleAlign":"center"}},
"color":{"field":"s","type":"nominal","legend":null,
"scale":{"range":["#bf00bf","#bfbf00","#000000","#0000ff","#008000","#ff0000","#00bfbf"]}}
}
},
{
"data":{"name":"dots"},
"mark":{"type":"circle","size":81,"color":"black","opacity":1},
"encoding":{
"x":{"field":"x","type":"quantitative","axis":{"orient":"top","values":[0,5,10,15,20,25,30,35,40],"labels":false,"title":null}},
"y":{"field":"y","type":"quantitative","axis":{"orient":"right","values":[-1,-0.5,0,0.5,1,1.5,2],"labels":false,"title":null}}
}
},
{
"data":{"name":"ellipse"},
"mark":{"type":"line","interpolate":"cardinal-closed","stroke":"#ff0000","strokeWidth":3},
"encoding":{
"x":{"field":"x","type":"quantitative","axis":null},
"y":{"field":"y","type":"quantitative","axis":null},
"order":{"field":"i","type":"quantitative"}
}
},
{
"data":{"name":"one"},
"mark":{"type":"text","text":"Post-calibration","font":"Lato","fontSize":25,"align":"center","baseline":"middle","color":"#111"},
"encoding":{"x":{"datum":28.6,"type":"quantitative","axis":null},"y":{"datum":1.73,"type":"quantitative","axis":null}}
},
{
"data":{"name":"one"},
"mark":{"type":"text","text":"DCα = N","font":"DejaVu Serif","fontStyle":"italic","fontSize":14,"align":"right","baseline":"middle","color":"#222"},
"encoding":{"x":{"datum":4.97,"type":"quantitative","axis":null},"y":{"datum":1.764,"type":"quantitative","axis":null}}
},
{
"data":{"name":"one"},
"mark":{"type":"text","text":"(-0.300, 0.250)","font":"DejaVu Sans","fontSize":17,"align":"left","baseline":"middle","color":"#222"},
"encoding":{"x":{"datum":4.97,"type":"quantitative","axis":null},"y":{"datum":1.764,"type":"quantitative","axis":null}}
},
{
"data":{"name":"one"},
"mark":{"type":"text","text":"DCβ = N","font":"DejaVu Serif","fontStyle":"italic","fontSize":14,"align":"right","baseline":"middle","color":"#222"},
"encoding":{"x":{"datum":4.97,"type":"quantitative","axis":null},"y":{"datum":1.635,"type":"quantitative","axis":null}}
},
{
"data":{"name":"one"},
"mark":{"type":"text","text":"(0.900, 0.750)","font":"DejaVu Sans","fontSize":17,"align":"left","baseline":"middle","color":"#222"},
"encoding":{"x":{"datum":4.97,"type":"quantitative","axis":null},"y":{"datum":1.635,"type":"quantitative","axis":null}}
}
],
"resolve":{"axis":{"x":"independent","y":"independent"}}
}
